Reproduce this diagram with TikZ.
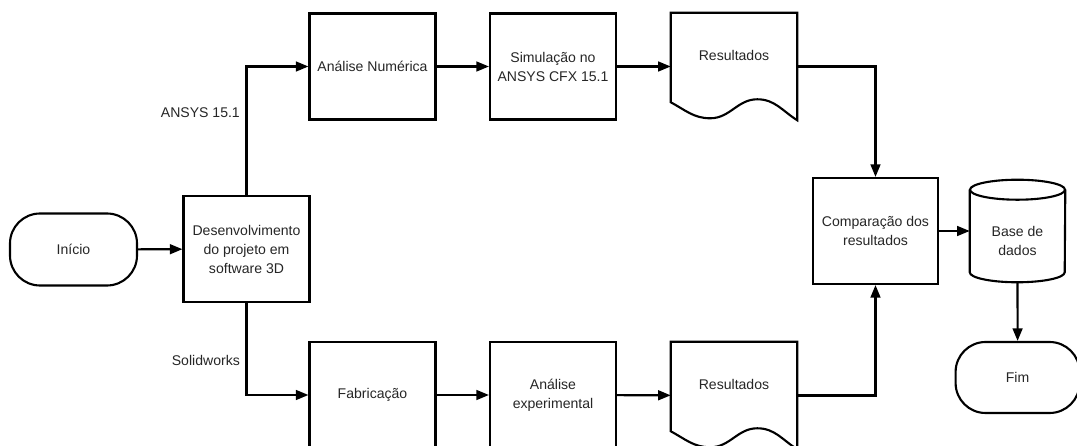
\documentclass[tikz,border=0pt]{standalone}
\usepackage{fontspec}
\setmainfont{Liberation Sans}
\usetikzlibrary{arrows.meta}

\tikzset{
  txt/.style={font=\fontsize{10}{13.5}\selectfont, text=black!85},
  box/.style={txt, draw, line width=1.5pt, minimum width=3.15cm,
    minimum height=2.65cm, align=center, inner sep=2pt},
  term/.style={txt, draw, line width=1.5pt, rounded corners=0.75cm,
    minimum height=1.8cm, align=center},
  doc/.style={txt, minimum width=3.15cm, minimum height=2.675cm,
    text depth=0.53cm, align=center, inner sep=0pt},
  line/.style={line width=1.5pt, line join=miter},
  arr/.style={line width=1.5pt, -{Triangle[length=9pt,width=7pt]}},
  lbl/.style={txt, left, inner sep=4pt}
}

\begin{document}
\begin{tikzpicture}

    \useasboundingbox (0, 0) rectangle (26.925, -11.15);

    \coordinate (I) at (1.8375, -6.2375);
    \coordinate (D) at (6.1625, -6.225);

    \coordinate (N) at (9.3125, -1.6625);
    \coordinate (S) at (13.825, -1.6625);
    \coordinate (R1) at (18.35, -1.6625);

    \coordinate (F) at (9.3125, -9.875);
    \coordinate (E) at (13.825, -9.875);
    \coordinate (R2) at (18.35, -9.8875);

    \coordinate (C) at (21.8875, -5.775);
    \coordinate (B) at (25.4375, -6.025);
    \coordinate (M) at (25.44, -9.4375);

    \node[term, minimum width=3.175cm] (inicio) at (I) {Início};
    \node[box, minimum height=2.65cm] (desenv) at (D)
      {Desenvolvimento\\do projeto em\\software 3D};

    \node[box] (numerica) at (N) {Análise Numérica};
    \node[box] (simul) at (S) {Simulação no\\ANSYS CFX 15.1};
    \node[doc] (res1) at (R1) {Resultados};

    \node[box] (fabric) at (F) {Fabricação};
    \node[box] (exper) at (E) {Análise\\experimental};
    \node[doc] (res2) at (R2) {Resultados};

    \node[box, minimum width=3.125cm] (compar) at (C)
      {Comparação dos\\resultados};
    \node[txt, minimum width=2.375cm, minimum height=2.05cm, align=center,
      inner sep=0pt] (dados) at (B) {Base de\\dados};
    \node[term, minimum width=3.1cm, minimum height=1.775cm] (fim) at (M) {Fim};

    % document outlines with the wavy bottom
    \foreach \r in {res1, res2} {
      \draw[line] ([yshift=0.45cm]\r.south west) |- (\r.north east)
        -- (\r.south east) to[out=148, in=0] ++(-1, 0.525)
        to[out=180, in=0] ++(-1.175, -0.475)
        to[out=180, in=-28] ([yshift=0.45cm]\r.south west) -- cycle;
    }

    % database cylinder
    \draw[line] ([yshift=0.25cm]dados.north west)
      -- ([yshift=0.25cm]dados.south west)
      arc[start angle=180, end angle=360, x radius=1.1875cm, y radius=0.25cm]
      -- ([yshift=0.25cm]dados.north east);
    \draw[line] ([yshift=0.25cm]dados.north)
      ellipse[x radius=1.1875cm, y radius=0.25cm];

    \draw[arr] (inicio) -- (desenv);

    \draw[arr] (desenv.north) |- node[lbl, pos=0.32] {ANSYS 15.1} (numerica.west);
    \draw[arr] (desenv.south) |- node[lbl, pos=0.31] {Solidworks} (fabric.west);

    \draw[arr] (numerica) -- (simul);
    \draw[arr] (simul) -- (res1);
    \draw[arr] (fabric) -- (exper);
    \draw[arr] (exper) -- (res2);

    \draw[arr] (res1.east) -| (compar.north);
    \draw[arr] (res2.east) -| (compar.south);

    \draw[arr] (compar.east) -- (compar.east -| dados.west);
    \draw[arr] (dados.south) -- (fim.north);

\end{tikzpicture}
\end{document}
